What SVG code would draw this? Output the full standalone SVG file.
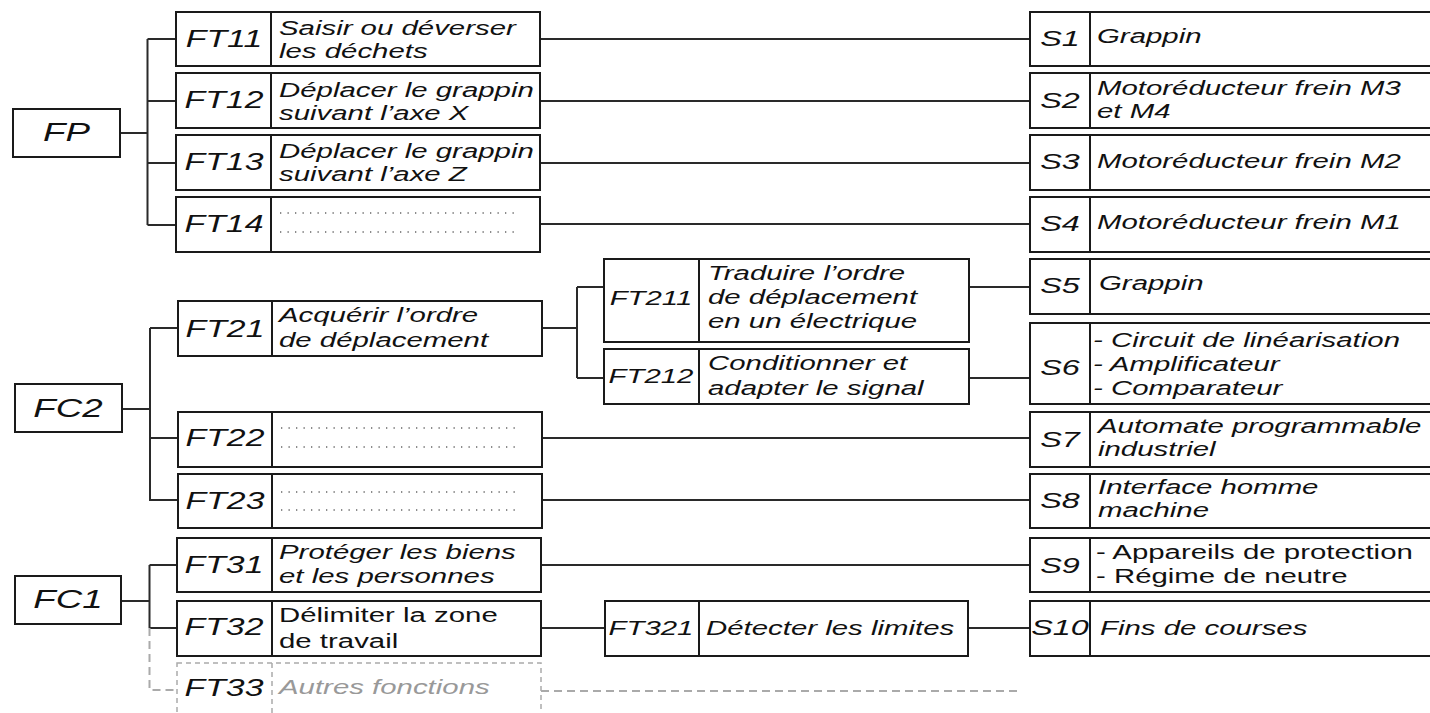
<svg xmlns="http://www.w3.org/2000/svg" width="1430" height="713" viewBox="0 0 1430 713">
<style>
.box{fill:#fff;stroke:#1a1a1a;stroke-width:2}
.dv{stroke:#1a1a1a;stroke-width:2}
.gbox{fill:#fff;stroke:#aaa;stroke-width:1.5;stroke-dasharray:5 4}
.gdv{stroke:#aaa;stroke-width:1.5;stroke-dasharray:5 4}
.c{stroke:#2a2a2a;stroke-width:2;fill:none}
.gc{stroke:#aaa;stroke-width:2;fill:none;stroke-dasharray:8 5}
.dots{stroke:#666;stroke-width:1.3;stroke-dasharray:1.3 6.2}
text{font-family:"Liberation Sans",Arial,sans-serif;fill:#111}
.code{font-size:23px;font-style:italic;text-anchor:middle}
.code2{font-size:20px;font-style:italic;text-anchor:middle}
.fc{font-size:25px;font-style:italic;text-anchor:middle}
.s{font-size:22px;font-style:italic;text-anchor:middle}
.d{font-size:20px;font-style:italic}
.u{font-size:20px}
.gray{fill:#999}
</style>
<g id="connectors">
<path class="c" d="M120,133 H147.5 M147.5,39 V225 M147.5,39 H176 M147.5,101 H176 M147.5,163 H176 M147.5,225 H176"/>
<path class="c" d="M540,39 H1030 M540,101 H1030 M540,163 H1030 M540,224 H1030"/>
<path class="c" d="M122,409 H150 M150,328 V501 M150,328 H178 M150,438 H178 M150,500 H178"/>
<path class="c" d="M542,328 H577 M577,287 V378 M577,287 H604 M577,378 H604"/>
<path class="c" d="M969,287 H1030 M969,378 H1030 M542,438 H1030 M542,500 H1030"/>
<path class="c" d="M121,601 H149.5 M149.5,565 V628 M149.5,565 H177 M149.5,628 H177"/>
<path class="c" d="M541,565 H1030 M541,628 H605 M968,628 H1030"/>
<path class="gc" d="M149.5,628 V690 H177 M541,691 H1021"/>
</g>
<g id="FP"><rect class="box" x="13" y="109" width="107" height="48"/><text class="fc" transform="translate(66.5,141) scale(1.47,1)">FP</text></g>
<g id="FC2"><rect class="box" x="15" y="384" width="107" height="48"/><text class="fc" transform="translate(68,417) scale(1.47,1)">FC2</text></g>
<g id="FC1"><rect class="box" x="15" y="576" width="106" height="48"/><text class="fc" transform="translate(68,608) scale(1.47,1)">FC1</text></g>

<g id="FT11"><rect class="box" x="176" y="12" width="364" height="54"/><line class="dv" x1="271" y1="12" x2="271" y2="66"/>
<text class="code" transform="translate(224,47) scale(1.47,1)">FT11</text>
<text class="d" transform="translate(279,35) scale(1.47,1)"><tspan x="0">Saisir ou déverser</tspan><tspan x="0" dy="23">les déchets</tspan></text></g>
<g id="FT12"><rect class="box" x="176" y="73" width="364" height="55"/><line class="dv" x1="271" y1="73" x2="271" y2="128"/>
<text class="code" transform="translate(224,108) scale(1.47,1)">FT12</text>
<text class="d" transform="translate(279,97) scale(1.47,1)"><tspan x="0">Déplacer le grappin</tspan><tspan x="0" dy="23">suivant l’axe X</tspan></text></g>
<g id="FT13"><rect class="box" x="176" y="135" width="364" height="55"/><line class="dv" x1="271" y1="135" x2="271" y2="190"/>
<text class="code" transform="translate(224,170) scale(1.47,1)">FT13</text>
<text class="d" transform="translate(279,158) scale(1.47,1)"><tspan x="0">Déplacer le grappin</tspan><tspan x="0" dy="23">suivant l’axe Z</tspan></text></g>
<g id="FT14"><rect class="box" x="176" y="197" width="364" height="55"/><line class="dv" x1="271" y1="197" x2="271" y2="252"/>
<text class="code" transform="translate(224,232) scale(1.47,1)">FT14</text>
<line class="dots" x1="280" y1="213" x2="516" y2="213"/><line class="dots" x1="280" y1="232" x2="516" y2="232"/></g>

<g id="S1"><rect class="box" x="1030" y="12" width="420" height="54"/><line class="dv" x1="1090" y1="12" x2="1090" y2="66"/>
<text class="s" transform="translate(1060,46) scale(1.47,1)">S1</text>
<text class="d" transform="translate(1097,43) scale(1.47,1)">Grappin</text></g>
<g id="S2"><rect class="box" x="1030" y="73" width="420" height="55"/><line class="dv" x1="1090" y1="73" x2="1090" y2="128"/>
<text class="s" transform="translate(1060,108) scale(1.47,1)">S2</text>
<text class="d" transform="translate(1097,95) scale(1.47,1)"><tspan x="0">Motoréducteur frein M3</tspan><tspan x="0" dy="23">et M4</tspan></text></g>
<g id="S3"><rect class="box" x="1030" y="135" width="420" height="55"/><line class="dv" x1="1090" y1="135" x2="1090" y2="190"/>
<text class="s" transform="translate(1060,169) scale(1.47,1)">S3</text>
<text class="d" transform="translate(1097,168) scale(1.47,1)">Motoréducteur frein M2</text></g>
<g id="S4"><rect class="box" x="1030" y="197" width="420" height="55"/><line class="dv" x1="1090" y1="197" x2="1090" y2="252"/>
<text class="s" transform="translate(1060,231) scale(1.47,1)">S4</text>
<text class="d" transform="translate(1097,229) scale(1.47,1)">Motoréducteur frein M1</text></g>

<g id="FT21"><rect class="box" x="178" y="301" width="364" height="55"/><line class="dv" x1="272" y1="301" x2="272" y2="356"/>
<text class="code" transform="translate(225,337) scale(1.47,1)">FT21</text>
<text class="d" transform="translate(279,322) scale(1.47,1)"><tspan x="0">Acquérir l’ordre</tspan><tspan x="0" dy="25">de déplacement</tspan></text></g>
<g id="FT211"><rect class="box" x="604" y="259" width="365" height="83"/><line class="dv" x1="699" y1="259" x2="699" y2="342"/>
<text class="code2" transform="translate(651,305) scale(1.47,1)">FT211</text>
<text class="d" transform="translate(708,280) scale(1.47,1)"><tspan x="0">Traduire l’ordre</tspan><tspan x="0" dy="24">de déplacement</tspan><tspan x="0" dy="24">en un électrique</tspan></text></g>
<g id="FT212"><rect class="box" x="604" y="349" width="365" height="55"/><line class="dv" x1="699" y1="349" x2="699" y2="404"/>
<text class="code2" transform="translate(651,383) scale(1.47,1)">FT212</text>
<text class="d" transform="translate(708,370) scale(1.47,1)"><tspan x="0">Conditionner et</tspan><tspan x="0" dy="25">adapter le signal</tspan></text></g>
<g id="FT22"><rect class="box" x="178" y="412" width="364" height="55"/><line class="dv" x1="272" y1="412" x2="272" y2="467"/>
<text class="code" transform="translate(225,446) scale(1.47,1)">FT22</text>
<line class="dots" x1="281" y1="428" x2="517" y2="428"/><line class="dots" x1="281" y1="447" x2="517" y2="447"/></g>
<g id="FT23"><rect class="box" x="178" y="474" width="364" height="54"/><line class="dv" x1="272" y1="474" x2="272" y2="528"/>
<text class="code" transform="translate(225,509) scale(1.47,1)">FT23</text>
<line class="dots" x1="281" y1="492" x2="517" y2="492"/><line class="dots" x1="281" y1="510" x2="517" y2="510"/></g>

<g id="S5"><rect class="box" x="1030" y="259" width="420" height="55"/><line class="dv" x1="1090" y1="259" x2="1090" y2="314"/>
<text class="s" transform="translate(1060,293) scale(1.47,1)">S5</text>
<text class="d" transform="translate(1099,290) scale(1.47,1)">Grappin</text></g>
<g id="S6"><rect class="box" x="1030" y="323" width="420" height="81"/><line class="dv" x1="1090" y1="323" x2="1090" y2="404"/>
<text class="s" transform="translate(1060,375) scale(1.47,1)">S6</text>
<text class="d" transform="translate(1093,347) scale(1.47,1)"><tspan x="0">- Circuit de linéarisation</tspan><tspan x="0" dy="24">- Amplificateur</tspan><tspan x="0" dy="24">- Comparateur</tspan></text></g>
<g id="S7"><rect class="box" x="1030" y="412" width="420" height="55"/><line class="dv" x1="1090" y1="412" x2="1090" y2="467"/>
<text class="s" transform="translate(1060,447) scale(1.47,1)">S7</text>
<text class="d" transform="translate(1098,433) scale(1.47,1)"><tspan x="0">Automate programmable</tspan><tspan x="0" dy="23">industriel</tspan></text></g>
<g id="S8"><rect class="box" x="1030" y="474" width="420" height="54"/><line class="dv" x1="1090" y1="474" x2="1090" y2="528"/>
<text class="s" transform="translate(1060,508) scale(1.47,1)">S8</text>
<text class="d" transform="translate(1098,494) scale(1.47,1)"><tspan x="0">Interface homme</tspan><tspan x="0" dy="23">machine</tspan></text></g>

<g id="FT31"><rect class="box" x="177" y="538" width="364" height="54"/><line class="dv" x1="272" y1="538" x2="272" y2="592"/>
<text class="code" transform="translate(224,573) scale(1.47,1)">FT31</text>
<text class="d" transform="translate(279,559) scale(1.47,1)"><tspan x="0">Protéger les biens</tspan><tspan x="0" dy="24">et les personnes</tspan></text></g>
<g id="FT32"><rect class="box" x="177" y="601" width="364" height="55"/><line class="dv" x1="272" y1="601" x2="272" y2="656"/>
<text class="code" transform="translate(224,635) scale(1.47,1)">FT32</text>
<text class="u" transform="translate(279,622) scale(1.47,1)"><tspan x="0">Délimiter la zone</tspan><tspan x="0" dy="26">de travail</tspan></text></g>
<g id="FT33"><rect class="gbox" x="177" y="663" width="364" height="70"/><line class="gdv" x1="272" y1="663" x2="272" y2="733"/>
<text class="code" transform="translate(224,696) scale(1.47,1)">FT33</text>
<text class="d gray" transform="translate(279,694) scale(1.47,1)">Autres fonctions</text></g>
<g id="FT321"><rect class="box" x="605" y="601" width="363" height="55"/><line class="dv" x1="699" y1="601" x2="699" y2="656"/>
<text class="code2" transform="translate(651,635) scale(1.47,1)">FT321</text>
<text class="d" transform="translate(706,635) scale(1.47,1)">Détecter les limites</text></g>
<g id="S9"><rect class="box" x="1030" y="538" width="420" height="54"/><line class="dv" x1="1090" y1="538" x2="1090" y2="592"/>
<text class="s" transform="translate(1060,573) scale(1.47,1)">S9</text>
<text class="u" transform="translate(1096,559) scale(1.47,1)"><tspan x="0">- Appareils de protection</tspan><tspan x="0" dy="24">- Régime de neutre</tspan></text></g>
<g id="S10"><rect class="box" x="1030" y="601" width="420" height="55"/><line class="dv" x1="1090" y1="601" x2="1090" y2="656"/>
<text class="s" transform="translate(1060,635) scale(1.47,1)">S10</text>
<text class="d" transform="translate(1100,635) scale(1.47,1)">Fins de courses</text></g>
</svg>
